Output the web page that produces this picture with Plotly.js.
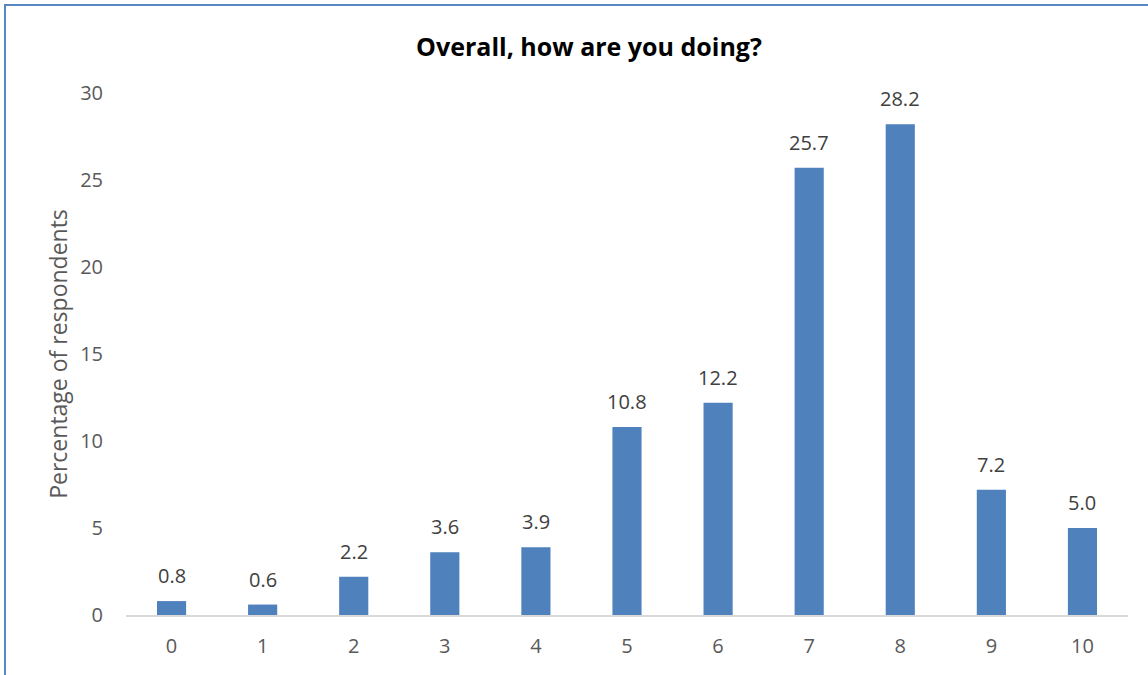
<!DOCTYPE html>
<html>
<head>
<meta charset="utf-8">
<script src="https://cdn.plot.ly/plotly-3.0.1.min.js"></script>
<style>
  html, body { margin: 0; padding: 0; background: #ffffff; }
  #frame { position: absolute; left: 0; top: 0; width: 1148px; height: 675px; overflow: hidden; }
  #border { position: absolute; left: 4px; top: 4px; width: 1160px; height: 700px;
            border-left: 2px solid #5a86c3; border-top: 2px solid #5a86c3; box-sizing: border-box; pointer-events: none; }
  #chart { position: absolute; left: 0; top: 0; width: 1148px; height: 675px; }
</style>
</head>
<body>
<div id="frame">
  <div id="chart"></div>
  <div id="border"></div>
</div>
<script>
// Survey scores (0–10) and the share of respondents giving each score
const scores = ['0', '1', '2', '3', '4', '5', '6', '7', '8', '9', '10'];
const percentages = [0.8, 0.6, 2.2, 3.6, 3.9, 10.8, 12.2, 25.7, 28.2, 7.2, 5.0];
const valueLabels = percentages.map(v => v.toFixed(1));
const yTicks = [0, 5, 10, 15, 20, 25, 30];

const font = '"Open Sans", "Noto Sans", "Liberation Sans", sans-serif';

const trace = {
  type: 'bar',
  x: scores,
  y: percentages,
  marker: { color: '#4f81bd', line: { width: 0 } },
  hoverinfo: 'none'
};

// Value labels sit above each bar
const labels = scores.map((s, i) => ({
  x: s,
  y: percentages[i],
  xref: 'x',
  yref: 'y',
  text: valueLabels[i],
  showarrow: false,
  yanchor: 'bottom',
  yshift: 10,
  font: { family: font, size: 20, color: '#404040' }
}));

const layout = {
  width: 1148,
  height: 675,
  margin: { l: 126, r: 20, t: 93, b: 60 },
  paper_bgcolor: '#ffffff',
  plot_bgcolor: '#ffffff',
  bargap: 0.68,
  showlegend: false,
  title: {
    text: '<b>Overall, how are you doing?</b>',
    font: { family: font, size: 25, color: '#000000' },
    x: 589 / 1148, xref: 'container', xanchor: 'center',
    y: 1 - 47 / 675, yref: 'container', yanchor: 'middle'
  },
  annotations: labels,
  xaxis: {
    type: 'category',
    showgrid: false,
    zeroline: false,
    showline: true,
    linecolor: '#d9d9d9',
    linewidth: 2,
    ticks: '',
    tickfont: { family: font, size: 20, color: '#595959' },
    ticklabelstandoff: 12
  },
  yaxis: {
    range: [0, 30],
    tickvals: yTicks,
    ticktext: yTicks.map(String),
    showgrid: false,
    zeroline: false,
    showline: false,
    ticks: '',
    ticklabelstandoff: 22,
    tickfont: { family: font, size: 20, color: '#595959' },
    title: {
      text: 'Percentage of respondents',
      font: { family: font, size: 23, color: '#595959' },
      standoff: 6
    }
  }
};

Plotly.newPlot('chart', [trace], layout, { staticPlot: true, displayModeBar: false });
</script>
</body>
</html>
